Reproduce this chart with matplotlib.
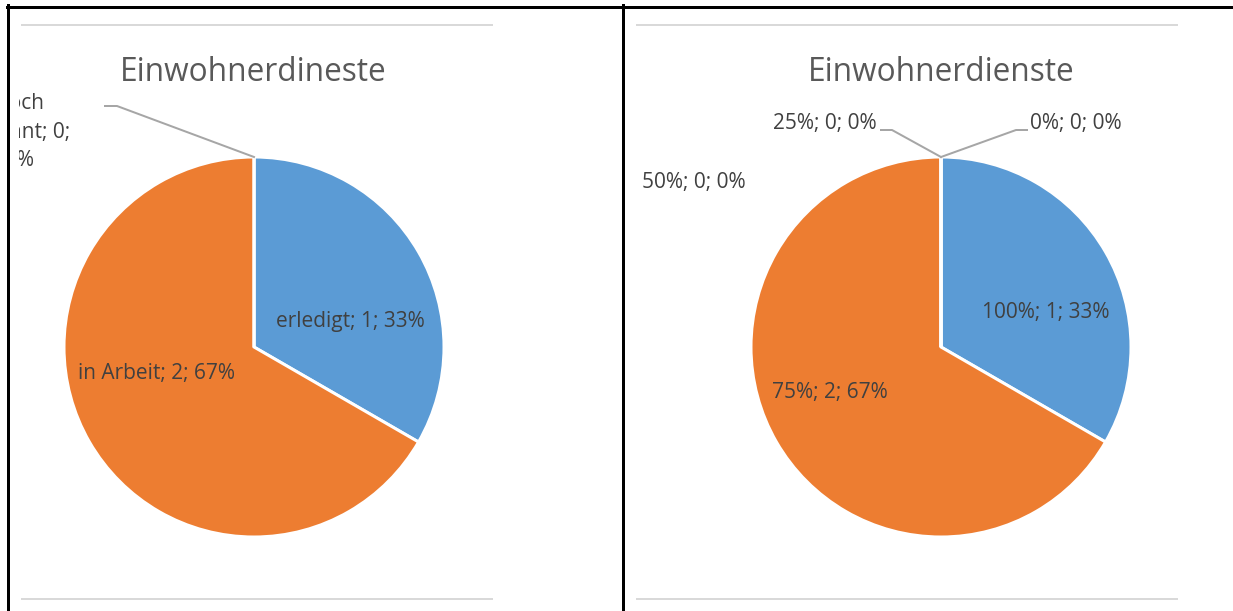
import matplotlib
matplotlib.use("Agg")
import matplotlib.pyplot as plt
from matplotlib.lines import Line2D
import numpy as np

# ---------------- data ----------------
left_title = "Einwohnerdineste"
left_categories = ["erledigt", "in Arbeit", "noch\ngeplant"]
left_values = [1, 2, 0]

right_title = "Einwohnerdienste"
right_categories = ["100%", "75%", "50%", "25%", "0%"]
right_values = [1, 2, 0, 0, 0]

colors = ["#5B9BD5", "#ED7D31", "#A5A5A5", "#FFC000", "#4472C4"]

# ---------------- layout ----------------
W, H = 1233, 611
plt.rcParams['font.family'] = ['Open Sans', 'DejaVu Sans']
LABEL_C = "#404040"
TITLE_C = "#595959"
LEADER_C = "#A6A6A6"
GRID_C = "#D9D9D9"
LABEL_FS = 15.0
TITLE_FS = 22.8

fig = plt.figure(figsize=(W / 100, H / 100), dpi=100)
fig.patch.set_facecolor("white")

# frame overlay in image pixel coordinates (y down)
ov = fig.add_axes([0, 0, 1, 1], zorder=0)
ov.set_xlim(0, W)
ov.set_ylim(H, 0)
ov.axis("off")
px = 0.72  # points per pixel
ov.add_line(Line2D([7, W], [6.5, 6.5], color="black", lw=3 * px))
ov.add_line(Line2D([7.5, 7.5], [5, H], color="black", lw=3 * px))
ov.add_line(Line2D([622.5, 622.5], [5, H], color="black", lw=3 * px))
for x0, x1 in [(22, 492), (637, 1177)]:
    for y in (25, 599):
        ov.add_line(Line2D([x0, x1], [y, y], color=GRID_C, lw=2 * px))


def Y(y):
    return H - y


def make_panel(area, center, radius, title, title_x, cats, vals, label_specs, leaders):
    x0, x1, y0, y1 = area
    ax = fig.add_axes([x0 / W, (H - y1) / H, (x1 - x0) / W, (y1 - y0) / H], zorder=2)
    wedges, _ = ax.pie(vals, colors=colors[:len(vals)], startangle=90,
                       counterclock=False, radius=radius,
                       center=(center[0], Y(center[1])),
                       wedgeprops=dict(edgecolor="white", linewidth=3 * px))
    ax.set_xlim(x0, x1)
    ax.set_ylim(Y(y1), Y(y0))
    ax.set_aspect("auto")
    ax.axis("off")
    ax.text(title_x, Y(72), title, ha="center", va="center", fontsize=TITLE_FS,
            color=TITLE_C, fontweight="normal")
    total = sum(vals)
    for i, (cat, v) in enumerate(zip(cats, vals)):
        pct = 100.0 * v / total
        if "\n" in cat:
            parts = cat.split("\n")
            txt = parts[0] + "\n" + parts[1] + f"; {v};\n{pct:.0f}%"
        else:
            txt = f"{cat}; {v}; {pct:.0f}%"
        lx, ly, ha = label_specs[i]
        ax.text(lx, Y(ly), txt, ha=ha, va="center", fontsize=LABEL_FS,
                color=LABEL_C, clip_on=True, linespacing=1.45,
                multialignment="center")
    for idx, (ex, ey, hx) in leaders.items():
        w = wedges[idx]
        ang = np.deg2rad(w.theta1)
        sx = w.center[0] + w.r * np.cos(ang)
        sy = w.center[1] + w.r * np.sin(ang)
        ax.add_line(Line2D([sx, ex, hx], [sy, Y(ey), Y(ey)], color=LEADER_C,
                           lw=2 * px, zorder=3))
    return ax


# left panel
make_panel(area=(19, 495, 25, 599), center=(254, 347), radius=190,
           title=left_title, title_x=253.5,
           cats=left_categories, vals=left_values,
           label_specs=[(350.5, 321, "center"), (157, 373, "center"), (20, 132, "center")],
           leaders={2: (117, 106, 105)})

# right panel
make_panel(area=(634, 1180, 25, 599), center=(941, 347), radius=190,
           title=right_title, title_x=941.5,
           cats=right_categories, vals=right_values,
           label_specs=[(1045.5, 312, "center"), (830, 392, "center"),
                        (693.5, 182, "center"), (877, 123, "right"), (1030, 123, "left")],
           leaders={3: (892, 130, 881), 4: (1016, 130, 1027)})

fig.savefig("out.png", dpi=100, facecolor="white")
